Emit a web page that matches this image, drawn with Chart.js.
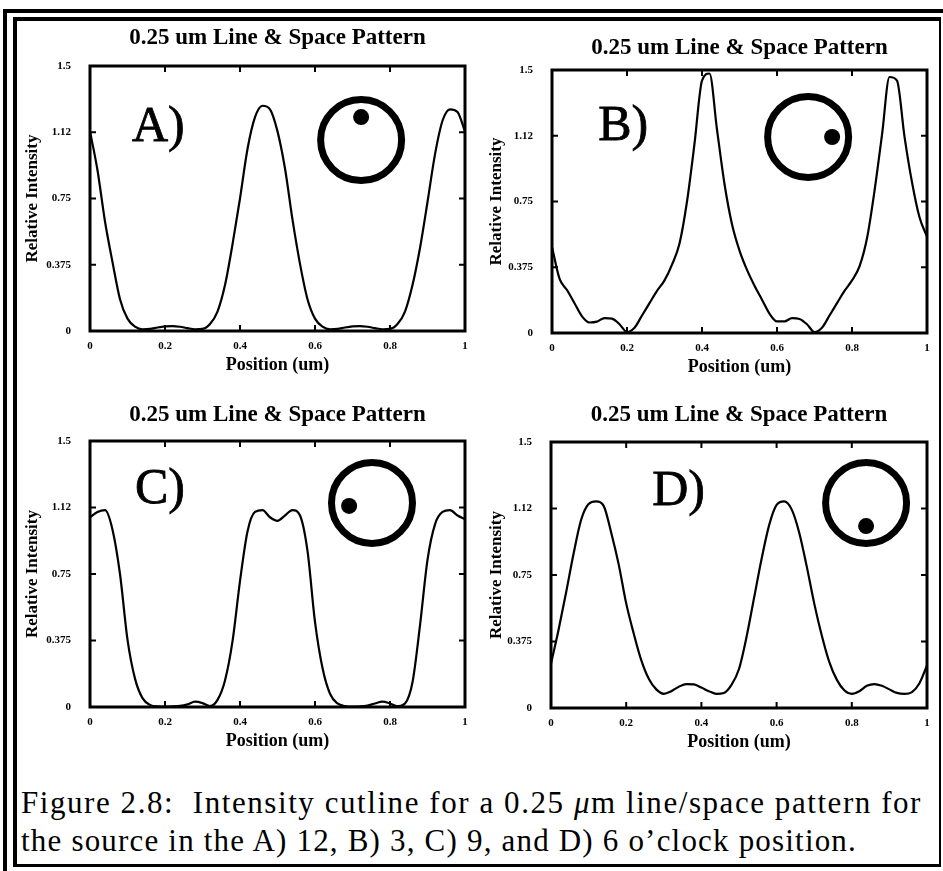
<!DOCTYPE html>
<html lang="en">
<head>
<meta charset="utf-8">
<title>Intensity cutline, 0.25 um line/space pattern</title>
<script src="https://cdn.jsdelivr.net/npm/chart.js@4.4.1/dist/chart.umd.min.js"></script>
<style>
  html, body { margin: 0; padding: 0; background: #fff; }
  body { position: relative; width: 943px; height: 871px; overflow: hidden;
         font-family: 'Liberation Serif', 'Times New Roman', serif; color: #000; }
  .frame-outer { position: absolute; left: 3px; top: 9px; width: 960px; height: 900px;
                 border-left: 4px solid #000; border-top: 4px solid #000; }
  .frame-inner { position: absolute; left: 13px; top: 17px; width: 922px; height: 843px;
                 border: solid #000; border-width: 4px 2px 3px 4px; }
  canvas { position: absolute; }
  .caption { position: absolute; left: 21px; font-size: 31px; line-height: 35px; white-space: nowrap; }
</style>
</head>
<body>
<div class="frame-outer"></div>
<div class="frame-inner"></div>

<canvas id="panelA"></canvas>
<canvas id="panelB"></canvas>
<canvas id="panelC"></canvas>
<canvas id="panelD"></canvas>

<div class="caption" id="cap1" style="top:785px"><span>Figure 2.8:&nbsp; Intensity cutline for a 0.25 <i>μ</i>m line/space pattern for</span></div>
<div class="caption" id="cap2" style="top:823px"><span>the source in the A) 12, B) 3, C) 9, and D) 6 o’clock position.</span></div>

<script>
// --- data read off the four cutlines ---
// position along the cutline (um)
const positions = [
  0, 0.02, 0.04, 0.06, 0.08, 0.10, 0.12, 0.14, 0.16, 0.18,
  0.20, 0.22, 0.24, 0.26, 0.28, 0.30, 0.32, 0.34, 0.36, 0.38,
  0.40, 0.42, 0.44, 0.46, 0.48, 0.50, 0.52, 0.54, 0.56, 0.58,
  0.60, 0.62, 0.64, 0.66, 0.68, 0.70, 0.72, 0.74, 0.76, 0.78,
  0.80, 0.82, 0.84, 0.86, 0.88, 0.90, 0.92, 0.94, 0.96, 0.98, 1
];

// A) source at 12 o'clock
const intensityA = [
  1.13, 0.91, 0.62, 0.39, 0.18, 0.07, 0.025, 0.01, 0.012, 0.02,
  0.026, 0.028, 0.024, 0.016, 0.01, 0.012, 0.04, 0.11, 0.26, 0.49,
  0.75, 1.03, 1.21, 1.275, 1.255, 1.13, 0.92, 0.63, 0.38, 0.18,
  0.07, 0.025, 0.01, 0.012, 0.02, 0.026, 0.028, 0.024, 0.016, 0.01,
  0.012, 0.04, 0.11, 0.26, 0.47, 0.73, 1.0, 1.19, 1.255, 1.24, 1.13
];

// B) source at 3 o'clock
const intensityB = [
  0.49, 0.31, 0.245, 0.17, 0.095, 0.06, 0.065, 0.085, 0.082, 0.05,
  0.005, 0.03, 0.10, 0.17, 0.24, 0.30, 0.39, 0.51, 0.75, 1.08,
  1.44, 1.48, 1.16, 0.85, 0.62, 0.47, 0.36, 0.27, 0.19, 0.11,
  0.066, 0.066, 0.085, 0.08, 0.05, 0.005, 0.03, 0.10, 0.17, 0.24,
  0.30, 0.38, 0.54, 0.81, 1.13, 1.46, 1.44, 1.12, 0.86, 0.66, 0.55
];

// C) source at 9 o'clock
const intensityC = [
  1.07, 1.10, 1.11, 1.00, 0.75, 0.38, 0.16, 0.05, 0.012, 0.003,
  0.002, 0.003, 0.006, 0.015, 0.03, 0.022, 0.005, 0.04, 0.15, 0.37,
  0.71, 0.99, 1.10, 1.11, 1.07, 1.05, 1.08, 1.11, 1.08, 0.88,
  0.48, 0.22, 0.075, 0.02, 0.005, 0.002, 0.003, 0.008, 0.02, 0.03,
  0.02, 0.004, 0.02, 0.14, 0.46, 0.83, 1.03, 1.10, 1.11, 1.08, 1.06
];

// D) source at 6 o'clock
const intensityD = [
  0.25, 0.44, 0.65, 0.87, 1.06, 1.15, 1.165, 1.14, 0.99, 0.81,
  0.59, 0.42, 0.27, 0.165, 0.105, 0.08, 0.095, 0.12, 0.135, 0.133,
  0.115, 0.095, 0.08, 0.085, 0.13, 0.22, 0.40, 0.62, 0.84, 1.03,
  1.145, 1.165, 1.12, 0.99, 0.80, 0.59, 0.41, 0.26, 0.16, 0.10,
  0.08, 0.095, 0.125, 0.135, 0.125, 0.105, 0.085, 0.08, 0.09, 0.14, 0.24
];

const xTickValues = [0, 0.2, 0.4, 0.6, 0.8, 1];
const xTickLabels = ['0', '0.2', '0.4', '0.6', '0.8', '1'];
const yTickValues = [0, 0.375, 0.75, 1.125, 1.5];
const yTickLabels = ['0', '0.375', '0.75', '1.12', '1.5'];

const panelTitle = '0.25 um Line & Space Pattern';
const xTitle = 'Position (um)';
const yTitle = 'Relative Intensity';

// --- layout of the four panels (page pixels of each plot box) ---
const AXIS_W = 80;     // room left of the plot for y labels + title
const AXIS_H = 48;     // room below the plot for x labels + title
const TITLE_H = 50;    // room above the plot for the panel title
const PAD_R = 12;
const TITLE_SIZE = 23;

const panels = [
  { id: 'panelA', values: intensityA, box: { L: 90, T: 66, R: 465, B: 331 }, titleY: 38, yTitleX: 33,
    inset: { label: 'A)', labelX: 0.112, labelY: 1.149, ringX: 0.723, ringY: 1.081, dotX: 0.723, dotY: 1.211 } },
  { id: 'panelB', values: intensityB, box: { L: 552, T: 70, R: 927, B: 333 }, titleY: 48, yTitleX: 497,
    inset: { label: 'B)', labelX: 0.123, labelY: 1.175, ringX: 0.683, ringY: 1.118, dotX: 0.747, dotY: 1.118 } },
  { id: 'panelC', values: intensityC, box: { L: 90, T: 441, R: 465, B: 707 }, titleY: 415, yTitleX: 33,
    inset: { label: 'C)', labelX: 0.12, labelY: 1.224, ringX: 0.752, ringY: 1.151, dotX: 0.691, dotY: 1.134 } },
  { id: 'panelD', values: intensityD, box: { L: 551, T: 442, R: 927, B: 708 }, titleY: 415, yTitleX: 497,
    inset: { label: 'D)', labelX: 0.269, labelY: 1.218, ringX: 0.838, ringY: 1.156, dotX: 0.838, dotY: 1.026 } }
];

Chart.defaults.font.family = "'Liberation Serif', 'Times New Roman', serif";
Chart.defaults.color = '#000';

// Box round the plot, inward ticks on all four sides, and the source-position sketch
const panelFrame = {
  id: 'panelFrame',
  afterDatasetsDraw(chart, args, opts) {
    const { ctx, chartArea: a, scales: { x, y } } = chart;
    ctx.save();
    ctx.strokeStyle = '#000';
    ctx.fillStyle = '#000';

    ctx.lineWidth = 3;
    ctx.strokeRect(a.left, a.top, a.right - a.left, a.bottom - a.top);

    ctx.lineWidth = 2;
    ctx.beginPath();
    x.ticks.forEach(t => {
      const px = x.getPixelForValue(t.value);
      ctx.moveTo(px, a.top); ctx.lineTo(px, a.top + 6);
      ctx.moveTo(px, a.bottom); ctx.lineTo(px, a.bottom - 6);
    });
    y.ticks.forEach(t => {
      const py = y.getPixelForValue(t.value);
      ctx.moveTo(a.left, py); ctx.lineTo(a.left + 6, py);
      ctx.moveTo(a.right, py); ctx.lineTo(a.right - 6, py);
    });
    ctx.stroke();

    if (opts && opts.label) {
      ctx.font = "50px 'Liberation Serif', serif";
      ctx.textAlign = 'left';
      ctx.textBaseline = 'middle';
      ctx.lineWidth = 0.8;
      const lx = x.getPixelForValue(opts.labelX);
      const ly = y.getPixelForValue(opts.labelY);
      ctx.fillText(opts.label, lx, ly);
      ctx.strokeText(opts.label, lx, ly);

      ctx.lineWidth = 7;
      ctx.beginPath();
      ctx.arc(x.getPixelForValue(opts.ringX), y.getPixelForValue(opts.ringY), 40.5, 0, Math.PI * 2);
      ctx.stroke();

      ctx.beginPath();
      ctx.arc(x.getPixelForValue(opts.dotX), y.getPixelForValue(opts.dotY), 8, 0, Math.PI * 2);
      ctx.fill();
    }
    ctx.restore();
  }
};

function drawPanel(p) {
  const canvas = document.getElementById(p.id);
  const w = p.box.R - p.box.L + AXIS_W + PAD_R;
  const h = p.box.B - p.box.T + TITLE_H + AXIS_H;
  const top = p.box.T - TITLE_H;
  const left = p.box.L - AXIS_W;
  canvas.width = w;
  canvas.height = h;
  canvas.style.width = w + 'px';
  canvas.style.height = h + 'px';
  canvas.style.left = left + 'px';
  canvas.style.top = top + 'px';

  const titleTop = p.titleY - top - TITLE_SIZE / 2;
  const yTitleFont = 17;

  new Chart(canvas, {
    type: 'line',
    data: {
      datasets: [{
        data: positions.map((pos, i) => ({ x: pos, y: p.values[i] })),
        borderColor: '#000',
        borderWidth: 2.2,
        pointRadius: 0,
        cubicInterpolationMode: 'monotone',
        fill: false
      }]
    },
    options: {
      responsive: false,
      animation: false,
      events: [],
      layout: { padding: { left: 0, top: 0, right: PAD_R, bottom: 0 } },
      scales: {
        x: {
          type: 'linear',
          min: 0,
          max: 1,
          afterBuildTicks: s => { s.ticks = xTickValues.map(v => ({ value: v })); },
          afterFit: s => { s.height = AXIS_H; },
          grid: { display: false },
          border: { display: false },
          ticks: {
            padding: 1, autoSkip: false, maxRotation: 0,
            font: { size: 11, weight: 'bold' },
            callback: (v, i) => xTickLabels[i]
          },
          title: {
            display: true, text: xTitle,
            font: { size: 18, weight: 'bold' },
            padding: { top: 0, bottom: 3 }
          }
        },
        y: {
          type: 'linear',
          min: 0,
          max: 1.5,
          afterBuildTicks: s => { s.ticks = yTickValues.map(v => ({ value: v })); },
          afterFit: s => { s.width = AXIS_W; },
          grid: { display: false },
          border: { display: false },
          ticks: {
            padding: 11, autoSkip: false,
            font: { size: 11, weight: 'bold' },
            callback: (v, i) => yTickLabels[i]
          },
          title: {
            display: true, text: yTitle,
            font: { size: yTitleFont, weight: 'bold' },
            padding: { top: p.yTitleX - left - yTitleFont * 0.6, bottom: 0 }
          }
        }
      },
      plugins: {
        legend: { display: false },
        tooltip: { enabled: false },
        title: {
          display: true,
          text: panelTitle,
          fullSize: false,
          font: { size: TITLE_SIZE, weight: 'bold', lineHeight: 1 },
          padding: { top: titleTop, bottom: TITLE_H - TITLE_SIZE - titleTop }
        },
        panelFrame: p.inset
      }
    },
    plugins: [panelFrame]
  });
}

panels.forEach(drawPanel);

// stretch each caption line to the width it has in the figure
function fitLine(id, target) {
  const span = document.querySelector('#' + id + ' span');
  const n = span.textContent.length;
  const w = span.getBoundingClientRect().width;
  span.style.letterSpacing = ((target - w) / n) + 'px';
}
fitLine('cap1', 901);
fitLine('cap2', 836);
</script>
</body>
</html>
